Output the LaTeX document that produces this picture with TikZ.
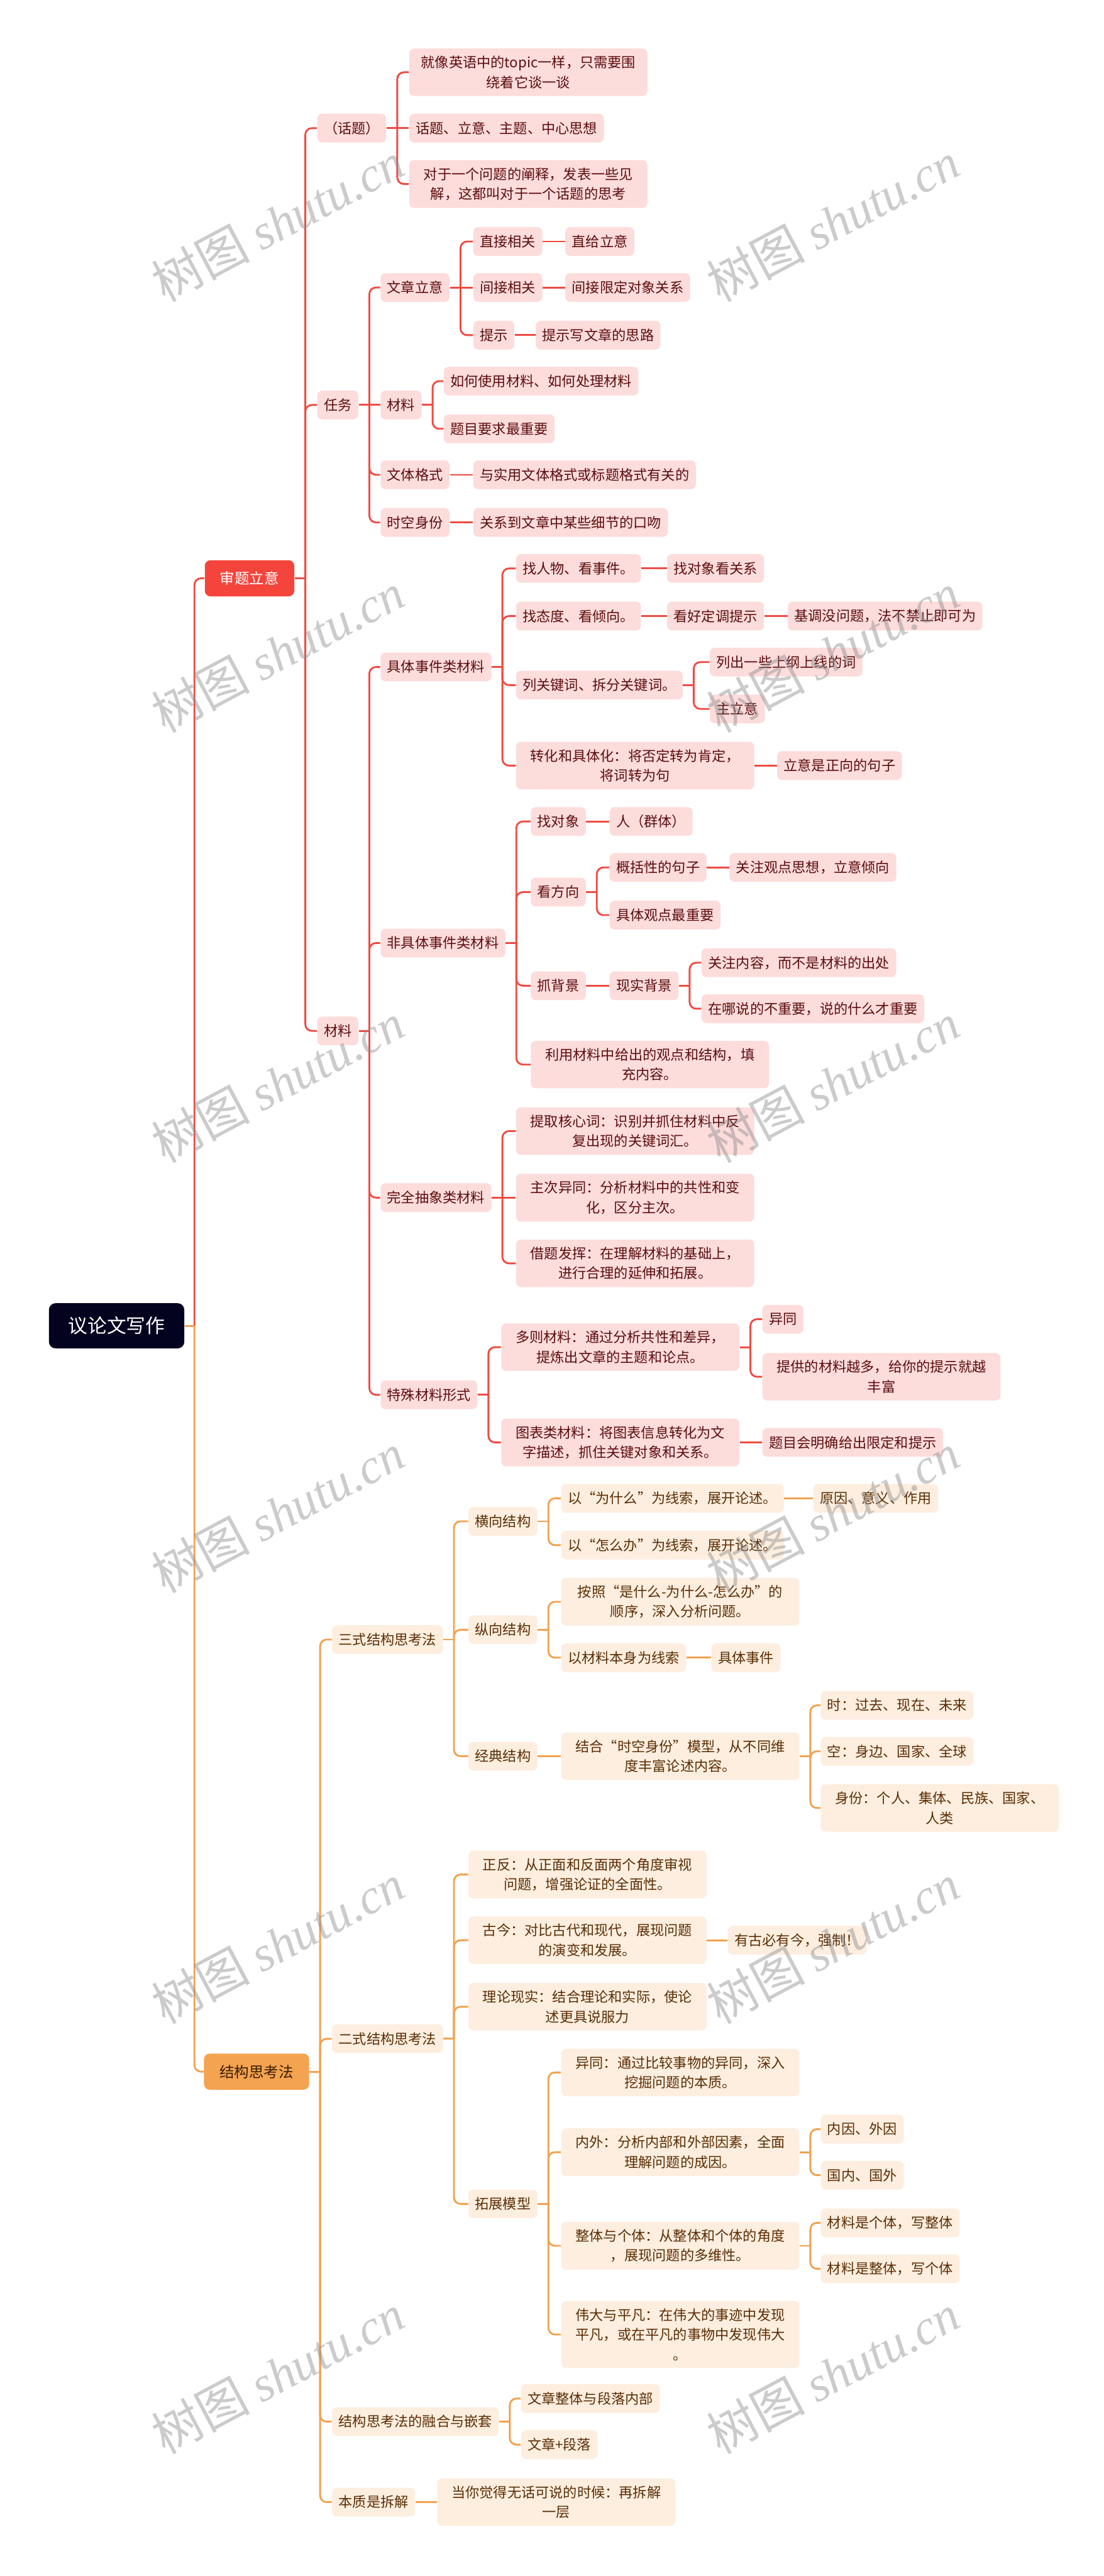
\documentclass[tikz,border=0pt]{standalone}
\usepackage{fontspec}
\setmainfont{Noto Sans CJK SC}
\newfontfamily\wmlatin{Liberation Serif}
\definecolor{navy}{HTML}{03031F}
\definecolor{rmain}{HTML}{F4443B}
\definecolor{rlinec}{HTML}{EF4B42}
\definecolor{rfill}{HTML}{FDDCDC}
\definecolor{rtext}{HTML}{5C0D0D}
\definecolor{omain}{HTML}{F4A350}
\definecolor{olinec}{HTML}{F2A14E}
\definecolor{ofill}{HTML}{FDEEDF}
\definecolor{otext}{HTML}{5A2E05}
\definecolor{omtext}{HTML}{3A1E00}
\tikzset{
 base/.style={anchor=west, rounded corners=3pt, inner xsep=4pt, inner ysep=4.5pt, minimum height=17.5pt, font=\fontsize{8.5}{12}\selectfont},
 rb/.style={base, fill=rfill, text=rtext},
 ob/.style={base, fill=ofill, text=otext},
 ml/.style={text width=137pt, align=center},
 redline/.style={draw=rlinec, line width=1.1pt},
 orangeline/.style={draw=olinec, line width=1.1pt},
 wm/.style={rotate=28, text=black!45, opacity=0.45, font=\fontsize{30}{30}\selectfont},
}
% bracket link (child at another height) and straight link (child at same height)
\newcommand\rlink[2]{\draw[redline] (#1.east) -- ++(6.5,0); \draw[redline,rounded corners=4pt] (#1.east) ++(6.5,0) |- (#2.west);}
\newcommand\olink[2]{\draw[orangeline] (#1.east) -- ++(6.5,0); \draw[orangeline,rounded corners=4pt] (#1.east) ++(6.5,0) |- (#2.west);}
\newcommand\rstr[2]{\draw[redline] (#1.east) -- (#2.west);}
\newcommand\ostr[2]{\draw[orangeline] (#1.east) -- (#2.west);}
\begin{document}
\begin{tikzpicture}[x=1pt,y=-1pt]
\useasboundingbox (0,0) rectangle (672,1568);
\fill[white] (0,0) rectangle (672,1568);
% root
\node[anchor=west, fill=navy, text=white, rounded corners=4pt, minimum width=82.4pt, minimum height=27.5pt, inner sep=0pt, font=\fontsize{11.8}{14}\selectfont] (root) at (29.6,807) {议论文写作};
% main branches
\node[anchor=west, fill=rmain, text=white, rounded corners=3.5pt, minimum width=54.5pt, minimum height=22pt, inner sep=0pt, font=\fontsize{9}{11}\selectfont] (A) at (124.5,352) {审题立意};
\node[anchor=west, fill=omain, text=omtext, rounded corners=3.5pt, minimum width=64pt, minimum height=22pt, inner sep=0pt, font=\fontsize{9}{11}\selectfont] (C) at (124,1261) {结构思考法};
% ---------------- red branch
\node[rb] (A1) at (193,78) {（话题）};
\node[rb,ml] (A1a) at (249,44) {就像英语中的topic一样，只需要围\\绕着它谈一谈};
\node[rb] (A1b) at (249,78) {话题、立意、主题、中心思想};
\node[rb,ml] (A1c) at (249,112) {对于一个问题的阐释，发表一些见\\解，这都叫对于一个话题的思考};
\node[rb] (A2) at (193,246.5) {任务};
\node[rb] (A2a) at (231.5,175) {文章立意};
\node[rb] (A2a1) at (288,147) {直接相关};
\node[rb] (A2a1x) at (344,147) {直给立意};
\node[rb] (A2a2) at (288,175) {间接相关};
\node[rb] (A2a2x) at (344,175) {间接限定对象关系};
\node[rb] (A2a3) at (288,204) {提示};
\node[rb] (A2a3x) at (326,204) {提示写文章的思路};
\node[rb] (A2b) at (231.5,246.5) {材料};
\node[rb] (A2b1) at (270,232) {如何使用材料、如何处理材料};
\node[rb] (A2b2) at (270,261) {题目要求最重要};
\node[rb] (A2c) at (231.5,289) {文体格式};
\node[rb] (A2cx) at (288,289) {与实用文体格式或标题格式有关的};
\node[rb] (A2d) at (231.5,318) {时空身份};
\node[rb] (A2dx) at (288,318) {关系到文章中某些细节的口吻};
\node[rb] (A3) at (193,627.5) {材料};
\node[rb] (B1) at (231.5,406) {具体事件类材料};
\node[rb] (B1a) at (314,346) {找人物、看事件。};
\node[rb] (B1ax) at (406,346) {找对象看关系};
\node[rb] (B1b) at (314,375) {找态度、看倾向。};
\node[rb] (B1bx) at (406,375) {看好定调提示};
\node[rb] (B1bxx) at (479.5,375) {基调没问题，法不禁止即可为};
\node[rb] (B1c) at (314,417) {列关键词、拆分关键词。};
\node[rb] (B1c1) at (432,403) {列出一些上纲上线的词};
\node[rb] (B1c2) at (432,431.5) {主立意};
\node[rb,ml] (B1d) at (314,466) {转化和具体化：将否定转为肯定，\\将词转为句};
\node[rb] (B1dx) at (473,466) {立意是正向的句子};
\node[rb] (B2) at (231.5,574) {非具体事件类材料};
\node[rb] (B2a) at (323,500) {找对象};
\node[rb] (B2ax) at (371,500) {人（群体）};
\node[rb] (B2b) at (323,543) {看方向};
\node[rb] (B2b1) at (371,528) {概括性的句子};
\node[rb] (B2b1x) at (444,528) {关注观点思想，立意倾向};
\node[rb] (B2b2) at (371,557) {具体观点最重要};
\node[rb] (B2c) at (323,600) {抓背景};
\node[rb] (B2cx) at (371,600) {现实背景};
\node[rb] (B2cx1) at (427,586) {关注内容，而不是材料的出处};
\node[rb] (B2cx2) at (427,614) {在哪说的不重要，说的什么才重要};
\node[rb,ml] (B2d) at (323,648) {利用材料中给出的观点和结构，填\\充内容。};
\node[rb] (B3) at (231.5,729) {完全抽象类材料};
\node[rb,ml] (B3a) at (314,688.5) {提取核心词：识别并抓住材料中反\\复出现的关键词汇。};
\node[rb,ml] (B3b) at (314,729) {主次异同：分析材料中的共性和变\\化，区分主次。};
\node[rb,ml] (B3c) at (314,769) {借题发挥：在理解材料的基础上，\\进行合理的延伸和拓展。};
\node[rb] (B4) at (231.5,849) {特殊材料形式};
\node[rb,ml] (B4a) at (305,820) {多则材料：通过分析共性和差异，\\提炼出文章的主题和论点。};
\node[rb] (B4a1) at (464,803) {异同};
\node[rb,ml] (B4a2) at (464,838) {提供的材料越多，给你的提示就越\\丰富};
\node[rb,ml] (B4b) at (305,878) {图表类材料：将图表信息转化为文\\字描述，抓住关键对象和关系。};
\node[rb] (B4bx) at (464,878) {题目会明确给出限定和提示};
% ---------------- orange branch
\node[ob] (C1) at (202,998) {三式结构思考法};
\node[ob] (H) at (285,926) {横向结构};
\node[ob] (H1) at (341.5,912) {以“为什么”为线索，展开论述。};
\node[ob] (H1x) at (495,912) {原因、意义、作用};
\node[ob] (H2) at (341.5,940.5) {以“怎么办”为线索，展开论述。};
\node[ob] (Z) at (285,992) {纵向结构};
\node[ob,ml] (Z1) at (341.5,975) {按照“是什么-为什么-怎么办”的\\顺序，深入分析问题。};
\node[ob] (Z2) at (341.5,1009) {以材料本身为线索};
\node[ob] (Z2x) at (433,1009) {具体事件};
\node[ob] (J) at (285,1069) {经典结构};
\node[ob,ml] (Jx) at (341.5,1069) {结合“时空身份”模型，从不同维\\度丰富论述内容。};
\node[ob] (Jx1) at (499.5,1038) {时：过去、现在、未来};
\node[ob] (Jx2) at (499.5,1066) {空：身边、国家、全球};
\node[ob,ml] (Jx3) at (499.5,1100.5) {身份：个人、集体、民族、国家、\\人类};
\node[ob] (C2) at (202,1241) {二式结构思考法};
\node[ob,ml] (E1) at (285,1141) {正反：从正面和反面两个角度审视\\问题，增强论证的全面性。};
\node[ob,ml] (E2) at (285,1181) {古今：对比古代和现代，展现问题\\的演变和发展。};
\node[ob] (E2x) at (443,1181) {有古必有今，强制！};
\node[ob,ml] (E3) at (285,1221.5) {理论现实：结合理论和实际，使论\\述更具说服力};
\node[ob] (T) at (285,1341.5) {拓展模型};
\node[ob,ml] (T1) at (341.5,1261.5) {异同：通过比较事物的异同，深入\\挖掘问题的本质。};
\node[ob,ml] (T2) at (341.5,1310) {内外：分析内部和外部因素，全面\\理解问题的成因。};
\node[ob] (T2a) at (499.5,1296) {内因、外因};
\node[ob] (T2b) at (499.5,1324) {国内、国外};
\node[ob,ml] (T3) at (341.5,1367) {整体与个体：从整体和个体的角度\\，展现问题的多维性。};
\node[ob] (T3a) at (499.5,1353) {材料是个体，写整体};
\node[ob] (T3b) at (499.5,1381) {材料是整体，写个体};
\node[ob,ml] (T4) at (341.5,1421) {伟大与平凡：在伟大的事迹中发现\\平凡，或在平凡的事物中发现伟大\\。};
\node[ob] (C3) at (202,1474) {结构思考法的融合与嵌套};
\node[ob] (C3a) at (317,1460) {文章整体与段落内部};
\node[ob] (C3b) at (317,1488) {文章+段落};
\node[ob] (C4) at (202,1523) {本质是拆解};
\node[ob,ml] (C4a) at (266,1523) {当你觉得无话可说的时候：再拆解\\一层};
% ---------------- connectors
\draw[redline] (root.east) -- ++(6,0);
\draw[redline,rounded corners=4pt] (root.east) ++(6,0) |- (A.west);
\draw[orangeline] (root.east) -- ++(6,0);
\draw[orangeline,rounded corners=4pt] (root.east) ++(6,0) |- (C.west);
\rlink{A}{A1}\rlink{A}{A2}\rlink{A}{A3}
\rlink{A1}{A1a}\rstr{A1}{A1b}\rlink{A1}{A1c}
\rlink{A2}{A2a}\rstr{A2}{A2b}\rlink{A2}{A2c}\rlink{A2}{A2d}
\rlink{A2a}{A2a1}\rstr{A2a}{A2a2}\rlink{A2a}{A2a3}
\rstr{A2a1}{A2a1x}\rstr{A2a2}{A2a2x}\rstr{A2a3}{A2a3x}
\rlink{A2b}{A2b1}\rlink{A2b}{A2b2}
\rstr{A2c}{A2cx}\rstr{A2d}{A2dx}
\rlink{A3}{B1}\rlink{A3}{B2}\rlink{A3}{B3}\rlink{A3}{B4}
\rlink{B1}{B1a}\rlink{B1}{B1b}\rlink{B1}{B1c}\rlink{B1}{B1d}
\rstr{B1a}{B1ax}\rstr{B1b}{B1bx}\rstr{B1bx}{B1bxx}
\rlink{B1c}{B1c1}\rlink{B1c}{B1c2}\rstr{B1d}{B1dx}
\rlink{B2}{B2a}\rlink{B2}{B2b}\rlink{B2}{B2c}\rlink{B2}{B2d}
\rstr{B2a}{B2ax}\rlink{B2b}{B2b1}\rlink{B2b}{B2b2}\rstr{B2b1}{B2b1x}
\rstr{B2c}{B2cx}\rlink{B2cx}{B2cx1}\rlink{B2cx}{B2cx2}
\rlink{B3}{B3a}\rstr{B3}{B3b}\rlink{B3}{B3c}
\rlink{B4}{B4a}\rlink{B4}{B4b}\rlink{B4a}{B4a1}\rlink{B4a}{B4a2}\rstr{B4b}{B4bx}
\olink{C}{C1}\olink{C}{C2}\olink{C}{C3}\olink{C}{C4}
\olink{C1}{H}\olink{C1}{Z}\olink{C1}{J}
\olink{H}{H1}\olink{H}{H2}\ostr{H1}{H1x}
\olink{Z}{Z1}\olink{Z}{Z2}\ostr{Z2}{Z2x}
\ostr{J}{Jx}\olink{Jx}{Jx1}\olink{Jx}{Jx2}\olink{Jx}{Jx3}
\olink{C2}{E1}\olink{C2}{E2}\olink{C2}{E3}\olink{C2}{T}\ostr{E2}{E2x}
\olink{T}{T1}\olink{T}{T2}\olink{T}{T3}\olink{T}{T4}
\olink{T2}{T2a}\olink{T2}{T2b}\olink{T3}{T3a}\olink{T3}{T3b}
\olink{C3}{C3a}\olink{C3}{C3b}\ostr{C4}{C4a}
% ---------------- watermarks
\foreach \wy [count=\i] in {135,397,659,921,1183,1445}{
  \node[wm] (wml\i) at (169,\wy) {树图 {\wmlatin\itshape shutu.cn}};
  \node[wm] (wmr\i) at (507,\wy) {树图 {\wmlatin\itshape shutu.cn}};
}
\end{tikzpicture}
\end{document}
